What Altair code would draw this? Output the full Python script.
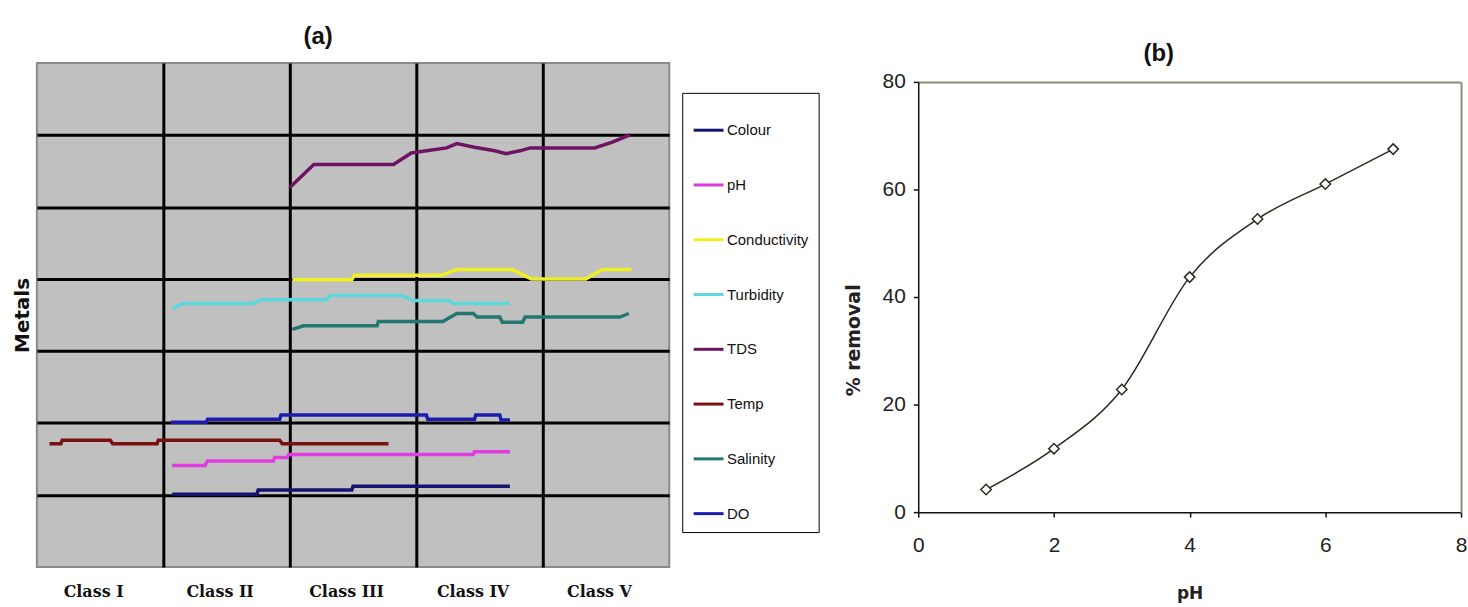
import altair as alt
import pandas as pd

# ---------------- Panel (a) data ----------------
series_names = ["Colour", "pH", "Conductivity", "Turbidity", "TDS", "Temp", "Salinity", "DO"]
series_colors = ["#14146e", "#e03ce0", "#eeee22", "#5cd8dc", "#6e1462", "#7a1010", "#22786f", "#1c1cb0"]

colour_x = [1.07, 1.74, 1.75, 2.49, 2.50, 3.74]
colour_y = [1.01, 1.01, 1.07, 1.07, 1.12, 1.12]

ph_x = [1.07, 1.33, 1.35, 1.87, 1.88, 1.98, 1.99, 3.45, 3.46, 3.74]
ph_y = [1.41, 1.41, 1.47, 1.47, 1.52, 1.52, 1.56, 1.56, 1.60, 1.60]

cond_x = [2.02, 2.49, 2.51, 3.20, 3.32, 3.76, 3.91, 4.34, 4.47, 4.70]
cond_y = [3.99, 3.99, 4.05, 4.05, 4.13, 4.13, 4.00, 4.00, 4.13, 4.13]

turb_x = [1.07, 1.16, 1.71, 1.77, 2.29, 2.32, 2.89, 2.97, 3.26, 3.29, 3.74]
turb_y = [3.59, 3.66, 3.66, 3.71, 3.71, 3.77, 3.77, 3.70, 3.70, 3.66, 3.66]

tds_x = [2.00, 2.19, 2.82, 2.96, 3.08, 3.24, 3.32, 3.46, 3.62, 3.71, 3.82, 3.90, 4.41, 4.55, 4.69]
tds_y = [5.27, 5.59, 5.59, 5.75, 5.78, 5.82, 5.88, 5.83, 5.78, 5.74, 5.78, 5.82, 5.82, 5.90, 6.00]

temp_x = [0.10, 0.19, 0.20, 0.58, 0.60, 0.95, 0.96, 1.92, 1.94, 2.78]
temp_y = [1.71, 1.71, 1.76, 1.76, 1.71, 1.71, 1.76, 1.76, 1.71, 1.71]

sal_x = [2.02, 2.11, 2.69, 2.70, 3.21, 3.32, 3.45, 3.48, 3.66, 3.68, 3.84, 3.86, 4.61, 4.68]
sal_y = [3.30, 3.35, 3.35, 3.41, 3.41, 3.52, 3.52, 3.47, 3.47, 3.40, 3.40, 3.47, 3.47, 3.52]

do_x = [1.06, 1.34, 1.35, 1.92, 1.93, 3.08, 3.09, 3.46, 3.47, 3.66, 3.67, 3.74]
do_y = [2.01, 2.01, 2.05, 2.05, 2.11, 2.11, 2.05, 2.05, 2.11, 2.11, 2.04, 2.04]

class_labels = ["Class I", "Class II", "Class III", "Class IV", "Class V"]
class_centers = [0.5, 1.5, 2.5, 3.5, 4.5]
class_bounds = [1, 2, 3, 4]
level_lines = [1, 2, 3, 4, 5, 6]

# ---------------- Panel (b) data ----------------
ph_values = [1, 2, 3, 4, 5, 6, 7]
removal_pct = [4.2, 11.8, 22.8, 43.7, 54.5, 61.0, 67.5]
b_x_ticks = [0, 2, 4, 6, 8]
b_y_ticks = [0, 20, 40, 60, 80]

# ---------------- build tables ----------------
series_pts = {
    "Colour": (colour_x, colour_y),
    "pH": (ph_x, ph_y),
    "Conductivity": (cond_x, cond_y),
    "Turbidity": (turb_x, turb_y),
    "TDS": (tds_x, tds_y),
    "Temp": (temp_x, temp_y),
    "Salinity": (sal_x, sal_y),
    "DO": (do_x, do_y),
}
rows = []
for name in series_names:
    xs, ys = series_pts[name]
    for i, (xv, yv) in enumerate(zip(xs, ys)):
        rows.append({"series": name, "pos": xv, "level": yv, "idx": i})
df_a = pd.DataFrame(rows)

df_b = pd.DataFrame({"ph": ph_values, "removal": removal_pct})

parts = [f"datum.value == {p} ? '{l}'" for p, l in zip(class_centers, class_labels)]
label_expr = " : ".join(parts) + " : ''"

SANS = "Liberation Sans, Arial"

chart_a = alt.Chart(df_a).mark_line(strokeWidth=3.5).encode(
    x=alt.X(
        "pos:Q",
        scale=alt.Scale(domain=[0, 5], nice=False, zero=False),
        axis=alt.Axis(
            values=class_bounds + class_centers,
            grid=True,
            gridColor={"condition": {"test": "datum.value % 1 == 0", "value": "#000000"}, "value": "transparent"},
            gridWidth=3,
            gridOpacity=1,
            ticks=False,
            domain=False,
            labelExpr=label_expr,
            labelFont="DejaVu Serif",
            labelFontWeight="bold",
            labelFontSize=16,
            labelColor="#111111",
            labelPadding=17,
            labelOffset=-7,
            labelOverlap=False,
            labelFlush=False,
            title=None,
        ),
    ),
    y=alt.Y(
        "level:Q",
        scale=alt.Scale(domain=[0, 7], nice=False, zero=False),
        axis=alt.Axis(
            values=level_lines,
            grid=True,
            gridColor="#000000",
            gridWidth=3,
            gridOpacity=1,
            ticks=False,
            domain=False,
            labels=False,
            title="Metals",
            titleFont="DejaVu Sans",
            titleFontWeight="bold",
            titleFontSize=20,
            titleColor="#111111",
            titlePadding=4,
        ),
    ),
    color=alt.Color(
        "series:N",
        scale=alt.Scale(domain=series_names, range=series_colors),
        sort=series_names,
        legend=alt.Legend(
            orient="none",
            legendX=648,
            legendY=30,
            title=" ",
            titleFontSize=9,
            titlePadding=2,
            titleColor="white",
            fillColor="white",
            strokeColor="black",
            padding=10,
            rowPadding=30,
            symbolType="stroke",
            symbolSize=900,
            symbolStrokeWidth=3,
            labelFont=SANS,
            labelFontSize=15,
            labelColor="#111111",
            labelOffset=2,
        ),
    ),
    order="idx:Q",
).properties(
    width=635,
    height=506,
    title=alt.TitleParams("(a)", font=SANS, fontSize=24, fontWeight="bold",
                          color="#111111", dx=-35, offset=14, anchor="middle"),
    view=alt.ViewBackground(fill="#c0c0c0", stroke="#8a8a8a", strokeWidth=2),
)

B_W = 545
B_H = 451
B_TOP = 19
y_scale_b = alt.Scale(domain=[0, 80], nice=False, range=[B_H, B_TOP])
x_scale_b = alt.Scale(domain=[0, 8], nice=False)

x_axis_b = alt.Axis(
    values=b_x_ticks,
    grid=False,
    domainColor="#111111",
    domainWidth=1.5,
    tickColor="#111111",
    tickWidth=1.5,
    tickSize=5,
    labelFont=SANS,
    labelFontSize=21,
    labelColor="#222222",
    labelPadding=18,
    labelFlush=False,
    title="pH",
    titleFont="DejaVu Sans",
    titleFontWeight="bold",
    titleFontSize=17,
    titleColor="#222222",
    titlePadding=30,
)

y_axis_b = alt.Axis(
    values=b_y_ticks,
    grid=True,
    gridColor={"condition": {"test": "datum.value == 80", "value": "#8c8c78"}, "value": "transparent"},
    gridWidth=2,
    gridOpacity=1,
    domainColor="#111111",
    domainWidth=1.5,
    tickColor="#111111",
    tickWidth=1.5,
    tickSize=5,
    labelFont=SANS,
    labelFontSize=21,
    labelColor="#222222",
    labelPadding=8,
    labelFlush=False,
    title="% removal",
    titleFont="DejaVu Sans",
    titleFontWeight="bold",
    titleFontSize=19,
    titleColor="#222222",
    titlePadding=19,
    titleY=278,
)

y_axis_b_right = alt.Axis(
    orient="right",
    values=b_y_ticks,
    grid=False,
    labels=False,
    ticks=False,
    domainColor="#8c8c78",
    domainWidth=2,
    title=None,
)

line_b = alt.Chart(df_b).mark_line(color="#2a2a1e", strokeWidth=1.5, interpolate="monotone").encode(
    x=alt.X("ph:Q", scale=x_scale_b, axis=x_axis_b),
    y=alt.Y("removal:Q", scale=y_scale_b, axis=y_axis_b),
)
pts_b = alt.Chart(df_b).mark_point(shape="diamond", size=110, filled=True, fill="white",
                                   stroke="#2a2a1e", strokeWidth=1.5, opacity=1).encode(
    x=alt.X("ph:Q", scale=x_scale_b, axis=x_axis_b),
    y=alt.Y("removal:Q", scale=y_scale_b, axis=y_axis_b_right),
)

chart_b = alt.layer(line_b, pts_b).resolve_axis(y="independent").properties(
    width=B_W,
    height=B_H,
    title=alt.TitleParams("(b)", font=SANS, fontSize=24, fontWeight="bold",
                          color="#111111", dx=-31, offset=-3, anchor="middle"),
    view=alt.ViewBackground(fill="white", stroke="transparent"),
)

chart = alt.hconcat(chart_a, chart_b, spacing=23).properties(
    padding={"left": 12, "top": 23, "right": 0, "bottom": 0},
    background="white",
).resolve_scale(color="independent")

chart.save("out.html", embed_options={"renderer": "svg", "actions": False})
